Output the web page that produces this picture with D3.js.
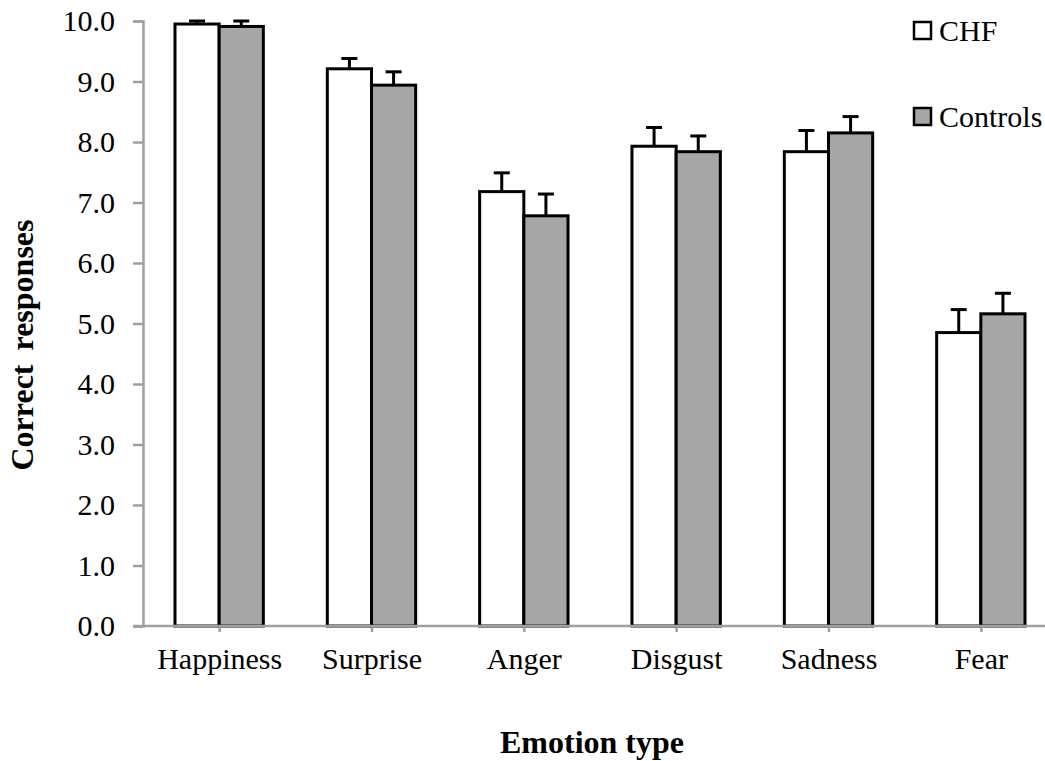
<!DOCTYPE html>
<html>
<head>
<meta charset="utf-8">
<script src="https://cdn.jsdelivr.net/npm/d3@7"></script>
<style>
  html, body { margin: 0; padding: 0; background: #fff; }
  svg { display: block; }
</style>
</head>
<body>
<svg id="chart" width="1045" height="761"></svg>
<script>
const categories = ["Happiness", "Surprise", "Anger", "Disgust", "Sadness", "Fear"];
const seriesNames = ["CHF", "Controls"];
const chfValues = [9.95, 9.21, 7.18, 7.93, 7.84, 4.85];
const chfErrors = [0.05, 0.17, 0.31, 0.31, 0.35, 0.38];
const controlValues = [9.91, 8.94, 6.78, 7.84, 8.15, 5.16];
const controlErrors = [0.09, 0.22, 0.36, 0.26, 0.27, 0.34];
const yTicks = [0, 1, 2, 3, 4, 5, 6, 7, 8, 9, 10];
const colors = { CHF: "#ffffff", Controls: "#a6a6a6" };

const svg = d3.select("#chart");
const axisColor = "#a0a0a0";
const font = "'Liberation Serif', 'Times New Roman', serif";

const x0 = d3.scaleBand().domain(categories).range([143, 1057]).padding(0);
const bw = x0.bandwidth();
const x1 = d3.scaleBand().domain(seriesNames).range([0.21 * bw, 0.79 * bw]).padding(0);
const y = d3.scaleLinear().domain([0, 10]).range([626, 21]);

const data = categories.map((c, i) => ({
  cat: c,
  vals: [
    { s: "CHF", v: chfValues[i], e: chfErrors[i] },
    { s: "Controls", v: controlValues[i], e: controlErrors[i] }
  ]
}));

// Y axis
const yAxis = d3.axisLeft(y).tickValues(yTicks).tickSize(10).tickPadding(18).tickFormat(d3.format(".1f"));
const gy = svg.append("g").attr("transform", "translate(143,0)").call(yAxis);
gy.select(".domain").attr("stroke", axisColor).attr("stroke-width", 2.5);
gy.selectAll(".tick line").attr("stroke", axisColor).attr("stroke-width", 2.5);
gy.selectAll(".tick text").attr("font-family", font).attr("font-size", 30).attr("fill", "#000");

// Error bars (drawn before bars so the stem bottom is hidden)
const groups = svg.append("g").selectAll("g.grp").data(data).join("g")
  .attr("transform", d => `translate(${x0(d.cat)},0)`);

groups.selectAll("line.err").data(d => d.vals).join("line")
  .attr("x1", d => x1(d.s) + x1.bandwidth() / 2)
  .attr("x2", d => x1(d.s) + x1.bandwidth() / 2)
  .attr("y1", d => y(d.v))
  .attr("y2", d => y(d.v + d.e))
  .attr("stroke", "#000").attr("stroke-width", 3);
groups.selectAll("line.cap").data(d => d.vals).join("line")
  .attr("x1", d => x1(d.s) + x1.bandwidth() / 2 - 8)
  .attr("x2", d => x1(d.s) + x1.bandwidth() / 2 + 8)
  .attr("y1", d => y(d.v + d.e))
  .attr("y2", d => y(d.v + d.e))
  .attr("stroke", "#000").attr("stroke-width", 3);

groups.selectAll("rect").data(d => d.vals).join("rect")
  .attr("x", d => x1(d.s))
  .attr("width", x1.bandwidth())
  .attr("y", d => y(d.v))
  .attr("height", d => y(0) - y(d.v))
  .attr("fill", d => colors[d.s])
  .attr("stroke", "#000").attr("stroke-width", 3);

// X axis
const xCenters = d3.scalePoint().domain(categories).range([x0(categories[0]) + bw / 2, x0(categories[5]) + bw / 2]);
const xAxis = d3.axisBottom(xCenters).tickSize(6).tickPadding(16);
const gx = svg.append("g").attr("transform", "translate(0,626)").call(xAxis);
gx.select(".domain").remove();
gx.append("line").attr("x1", 133).attr("x2", 1045).attr("y1", 0).attr("y2", 0)
  .attr("stroke", axisColor).attr("stroke-width", 2.5);
gx.selectAll(".tick line").attr("stroke", axisColor).attr("stroke-width", 2.5);
gx.selectAll(".tick text").attr("font-family", font).attr("font-size", 30).attr("fill", "#000");

// Axis titles
svg.append("text").attr("x", 592).attr("y", 753).attr("text-anchor", "middle")
  .attr("font-family", font).attr("font-size", 32).attr("font-weight", "bold").text("Emotion type");
svg.append("text").attr("transform", "translate(33,345) rotate(-90)").attr("text-anchor", "middle")
  .attr("font-family", font).attr("font-size", 32).attr("font-weight", "bold")
  .attr("word-spacing", 6).text("Correct responses");

// Legend
const legend = svg.append("g").selectAll("g").data(seriesNames).join("g")
  .attr("transform", (d, i) => `translate(914,${22 + i * 86})`);
legend.append("rect").attr("width", 17).attr("height", 17)
  .attr("fill", d => colors[d]).attr("stroke", "#000").attr("stroke-width", 2.5);
legend.append("text").attr("x", 25).attr("y", 19)
  .attr("font-family", font).attr("font-size", 30).attr("fill", "#000").text(d => d);
</script>
</body>
</html>
